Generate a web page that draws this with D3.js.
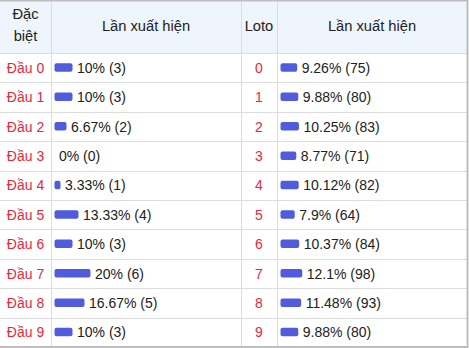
<!DOCTYPE html>
<html>
<head>
<meta charset="utf-8">
<script src="https://cdn.jsdelivr.net/npm/d3@7"></script>
<style>
  body { margin: 0; background: #fff; }
  svg { display: block; font-family: "Liberation Sans", Arial, sans-serif; }
</style>
</head>
<body>
<svg id="chart"></svg>
<script>
const dauLabels = ["Đầu 0", "Đầu 1", "Đầu 2", "Đầu 3", "Đầu 4", "Đầu 5", "Đầu 6", "Đầu 7", "Đầu 8", "Đầu 9"];
const dauPct = [10, 10, 6.67, 0, 3.33, 13.33, 10, 20, 16.67, 10];
const dauCount = [3, 3, 2, 0, 1, 4, 3, 6, 5, 3];
const lotoLabels = ["0", "1", "2", "3", "4", "5", "6", "7", "8", "9"];
const lotoPct = [9.26, 9.88, 10.25, 8.77, 10.12, 7.9, 10.37, 12.1, 11.48, 9.88];
const lotoCount = [75, 80, 83, 71, 82, 64, 84, 98, 93, 80];
const headers = ["Đặc biệt", "Lần xuất hiện", "Loto", "Lần xuất hiện"];

drawTable();

function drawTable() {
    const width = 469, height = 348;
    const cols = [0, 51, 241, 277, 467];
    const headH = 53, rowH = 29.4;
    const svg = d3.select("#chart").attr("width", width).attr("height", height);

    let y = d3.scaleLinear().domain([0, 10]).range([headH, headH + rowH * 10]);
    let w = d3.scaleLinear().domain([0, 100]).range([0, 180]);

    // header background
    svg.append("rect").attr("x", 0).attr("y", 0).attr("width", cols[4]).attr("height", headH)
        .attr("fill", "#eef5fd");

    let g = svg.append("g").attr("class", "grid").attr("stroke", "#dcdcdc").attr("stroke-width", 1);
    d3.range(11).forEach(i => {
        g.append("line").attr("x1", 0).attr("x2", cols[4])
            .attr("y1", Math.round(y(i)) + 0.5).attr("y2", Math.round(y(i)) + 0.5);
    });
    cols.slice(1, 4).forEach(c => {
        g.append("line").attr("x1", c + 0.5).attr("x2", c + 0.5).attr("y1", 0).attr("y2", height);
    });
    // outer border
    svg.append("path")
        .attr("d", `M0,0.5H${cols[4] + 0.5}V${height - 1}`)
        .attr("fill", "none").attr("stroke", "#bdbdbd").attr("stroke-width", 2);
    svg.append("line").attr("x1", 0).attr("x2", cols[4] + 1.5).attr("y1", height - 1).attr("y2", height - 1)
        .attr("stroke", "#bdbdbd").attr("stroke-width", 2);

    // header texts
    let ht = svg.append("g").attr("fill", "#222").attr("font-size", 14.7).attr("text-anchor", "middle");
    let c1 = ht.append("text").attr("x", (cols[0] + cols[1]) / 2);
    c1.append("tspan").attr("x", (cols[0] + cols[1]) / 2).attr("y", 19).text("Đặc");
    c1.append("tspan").attr("x", (cols[0] + cols[1]) / 2).attr("y", 41).text("biệt");
    [1, 2, 3].forEach(k => {
        ht.append("text").attr("x", (cols[k] + cols[k + 1]) / 2).attr("y", 31).text(headers[k]);
    });

    drawColumn(svg, dauLabels, dauPct, dauCount, cols[0], cols[1], y, w);
    drawColumn(svg, lotoLabels, lotoPct, lotoCount, cols[2], cols[3], y, w);
}

function drawColumn(svg, labels, pct, count, c0, c1, y, w) {
    let g = svg.append("g");
    let rows = g.selectAll("g.row").data(labels).enter().append("g").attr("class", "row")
        .attr("transform", (d, i) => `translate(0,${(y(i) + y(i + 1)) / 2})`);
    rows.append("text").attr("x", (c0 + c1) / 2).attr("y", 5).attr("text-anchor", "middle")
        .attr("font-size", 14).attr("fill", "#e8283c").text(d => d);
    rows.append("rect").attr("x", c1 + 3.5).attr("y", -4.5).attr("height", 8.5)
        .attr("width", (d, i) => w(pct[i])).attr("rx", 2)
        .attr("fill", "#505cdc");
    rows.append("text").attr("x", (d, i) => c1 + 3.5 + w(pct[i]) + 4.5).attr("y", 5)
        .attr("font-size", 14).attr("fill", "#222")
        .text((d, i) => `${pct[i]}% (${count[i]})`);
}
</script>
</body>
</html>
